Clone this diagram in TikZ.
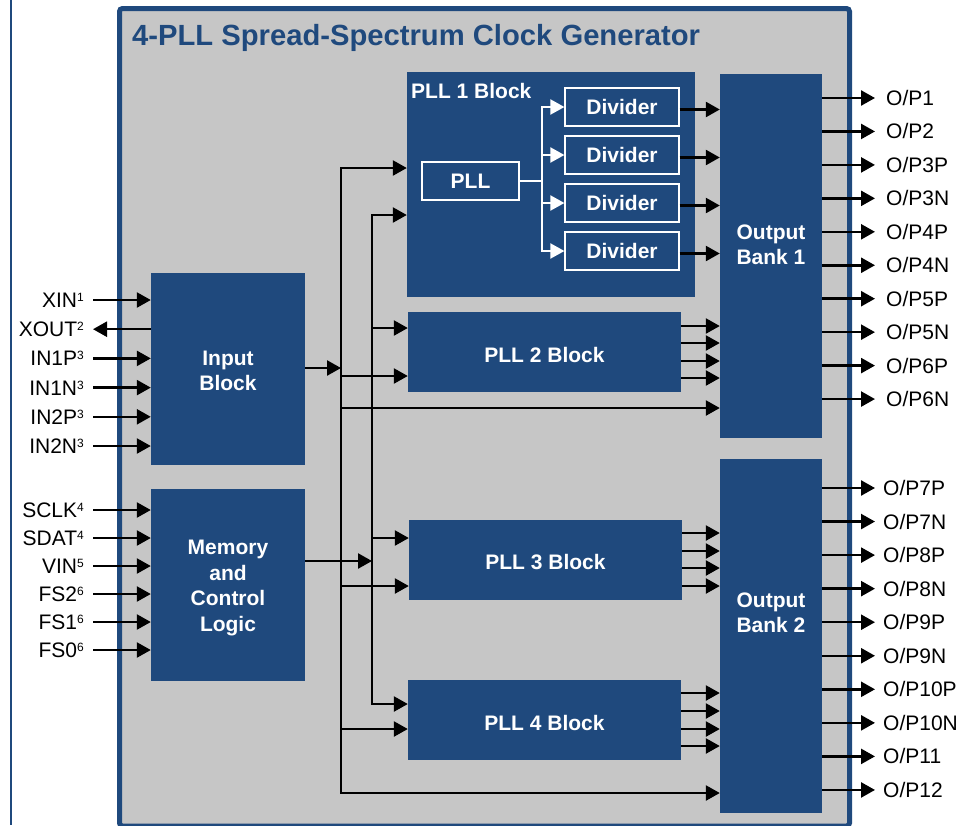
\documentclass[tikz,border=0pt]{standalone}
\usepackage{fontspec}
\setmainfont{Liberation Sans}
\usetikzlibrary{arrows.meta}
\definecolor{dblue}{RGB}{31,73,125}
\definecolor{bgray}{RGB}{198,198,198}
\newcommand\supn[1]{\raisebox{6pt}{\fontsize{12}{12}\selectfont #1}}
\begin{document}
\begin{tikzpicture}[x=1pt,y=-1pt,
 blk/.style={fill=dblue, draw=none, inner sep=0pt},
 btxt/.style={text=white, font=\bfseries\fontsize{21}{25}\selectfont, align=center, inner sep=0pt},
 sub/.style={fill=dblue, draw=white, line width=1.2pt, text=white, font=\bfseries\fontsize{21}{25}\selectfont, inner sep=0pt, minimum height=38pt},
 lbl/.style={font=\fontsize{21}{25}\selectfont, inner sep=0pt, text height=15pt, text depth=0pt},
 arr/.style={line width=2.5pt, -{Triangle[length=14pt,width=15pt]}},
 barr/.style={line width=2.5pt, {Triangle[length=14pt,width=15pt]}-{Triangle[length=14pt,width=15pt]}},
 warr/.style={draw=white, line width=2pt, -{Triangle[length=14pt,width=15pt]}},
]
\useasboundingbox (0,0) rectangle (961,825);
\fill[white] (0,0) rectangle (961,825);
\draw[dblue, line width=2.5pt] (11,0) -- (11,825);
\draw[dblue, fill=bgray, line width=5pt, rounded corners=3pt] (119.5,8.5) rectangle (849.5,826);
\node[anchor=base west, inner sep=0pt, text=dblue, font=\bfseries\fontsize{29.2}{30}\selectfont] (title) at (132,45) {4-PLL Spread-Spectrum Clock Generator};

% blocks
\node[blk, minimum width=154pt, minimum height=192pt] (inb) at (228,369) {};
\node[btxt] (inbt) at (228,371) {Input\\Block};
\node[blk, minimum width=154pt, minimum height=192pt] (mem) at (228,585) {};
\node[btxt, font=\bfseries\fontsize{21}{25.7}\selectfont] (memt) at (228,588) {Memory\\and\\Control\\Logic};
\node[blk, minimum width=288pt, minimum height=225pt] (pll1) at (551,184.5) {};
\node[btxt, anchor=west] (pll1t) at (411,91) {PLL 1 Block};
\node[sub, minimum width=97pt] (pll) at (470.5,181) {PLL};
\node[sub, minimum width=114pt] (d1) at (622,107) {Divider};
\node[sub, minimum width=114pt] (d2) at (622,155) {Divider};
\node[sub, minimum width=114pt] (d3) at (622,203) {Divider};
\node[sub, minimum width=114pt] (d4) at (622,251) {Divider};
\node[blk, minimum width=273pt, minimum height=80pt] (pll2) at (544.5,352) {};
\node[btxt] (pll2t) at (544.5,355) {PLL 2 Block};
\node[blk, minimum width=273pt, minimum height=80pt] (pll3) at (545.5,559.5) {};
\node[btxt] (pll3t) at (545.5,562.5) {PLL 3 Block};
\node[blk, minimum width=273pt, minimum height=80pt] (pll4) at (544.5,719.5) {};
\node[btxt] (pll4t) at (544.5,722.5) {PLL 4 Block};
\node[blk, minimum width=102pt, minimum height=364pt] (ob1) at (771,256) {};
\node[btxt] (ob1t) at (771,245) {Output\\Bank 1};
\node[blk, minimum width=102pt, minimum height=354pt] (ob2) at (771,636) {};
\node[btxt] (ob2t) at (771,613) {Output\\Bank 2};

% PLL1 internal
\coordinate (sp) at (542,181);
\foreach \d in {d1,d2,d3,d4} \draw[warr] (pll.east) -- (sp) |- (\d.west);
\foreach \d in {d1,d2,d3,d4} {
  \path ([yshift=-2.5pt]\d.east) coordinate (s);
  \draw[arr] (s) -- (s -| ob1.west);
}

% buses
\coordinate (b1t) at (341,168);
\coordinate (b1b) at (341,793);
\coordinate (b2t) at (372,215);
\coordinate (b2b) at (372,704);
\draw[barr] (pll1.west |- b1t) -- (b1t) -- (b1b) -- (ob2.west |- b1b);
\draw[barr] (pll1.west |- b2t) -- (b2t) -- (b2b) -- (pll4.west |- b2b);
\coordinate (j1) at (341,376); \draw[arr] (j1) -- (j1 -| pll2.west);
\coordinate (j2) at (341,408); \draw[arr] (j2) -- (j2 -| ob1.west);
\coordinate (j3) at (341,586); \draw[arr] (j3) -- (j3 -| pll3.west);
\coordinate (j4) at (341,729); \draw[arr] (j4) -- (j4 -| pll4.west);
\coordinate (k1) at (372,328); \draw[arr] (k1) -- (k1 -| pll2.west);
\coordinate (k2) at (372,538); \draw[arr] (k2) -- (k2 -| pll3.west);
\coordinate (ji) at (341,368); \draw[arr] (ji -| inb.east) -- (ji);
\coordinate (jm) at (372,561); \draw[arr] (jm -| mem.east) -- (jm);

% PLL 2-4 outputs
\foreach \y in {326,343,361,378} \draw[arr] (pll2.east |- 0,\y) -- (ob1.west |- 0,\y);
\foreach \y in {533,551,568,586} \draw[arr] (pll3.east |- 0,\y) -- (ob2.west |- 0,\y);
\foreach \y in {693,711,729,746} \draw[arr] (pll4.east |- 0,\y) -- (ob2.west |- 0,\y);

% inputs
\node[lbl, anchor=east] (i1) at (84,300) {XIN\supn{1}};
\node[lbl, anchor=east] (i2) at (84,329.2) {XOUT\supn{2}};
\node[lbl, anchor=east] (i3) at (84,358.4) {IN1P\supn{3}};
\node[lbl, anchor=east] (i4) at (84,387.6) {IN1N\supn{3}};
\node[lbl, anchor=east] (i5) at (84,416.8) {IN2P\supn{3}};
\node[lbl, anchor=east] (i6) at (84,446) {IN2N\supn{3}};
\foreach \i in {1,3,4,5,6} \draw[arr] ([xshift=9pt]i\i.east) -- (i\i.east -| inb.west);
\draw[arr] (i2.east -| inb.west) -- ([xshift=9pt]i2.east);
\node[lbl, anchor=east] (m1) at (84,510) {SCLK\supn{4}};
\node[lbl, anchor=east] (m2) at (84,538) {SDAT\supn{4}};
\node[lbl, anchor=east] (m3) at (84,566) {VIN\supn{5}};
\node[lbl, anchor=east] (m4) at (84,594) {FS2\supn{6}};
\node[lbl, anchor=east] (m5) at (84,622) {FS1\supn{6}};
\node[lbl, anchor=east] (m6) at (84,650) {FS0\supn{6}};
\foreach \i in {1,...,6} \draw[arr] ([xshift=9pt]m\i.east) -- (m\i.east -| mem.west);

% outputs
\foreach \t [count=\i] in {O/P1,O/P2,O/P3P,O/P3N,O/P4P,O/P4N,O/P5P,O/P5N,O/P6P,O/P6N} {
  \node[lbl, anchor=west] (o\i) at (886,{98+(\i-1)*33.45}) {\t};
  \draw[arr] (ob1.east |- o\i.west) -- ([xshift=-11pt]o\i.west);
}
\foreach \t [count=\i] in {O/P7P,O/P7N,O/P8P,O/P8N,O/P9P,O/P9N,O/P10P,O/P10N,O/P11,O/P12} {
  \node[lbl, anchor=west] (p\i) at (883,{488+(\i-1)*33.55}) {\t};
  \draw[arr] (ob2.east |- p\i.west) -- ([xshift=-8pt]p\i.west);
}
\end{tikzpicture}
\end{document}
